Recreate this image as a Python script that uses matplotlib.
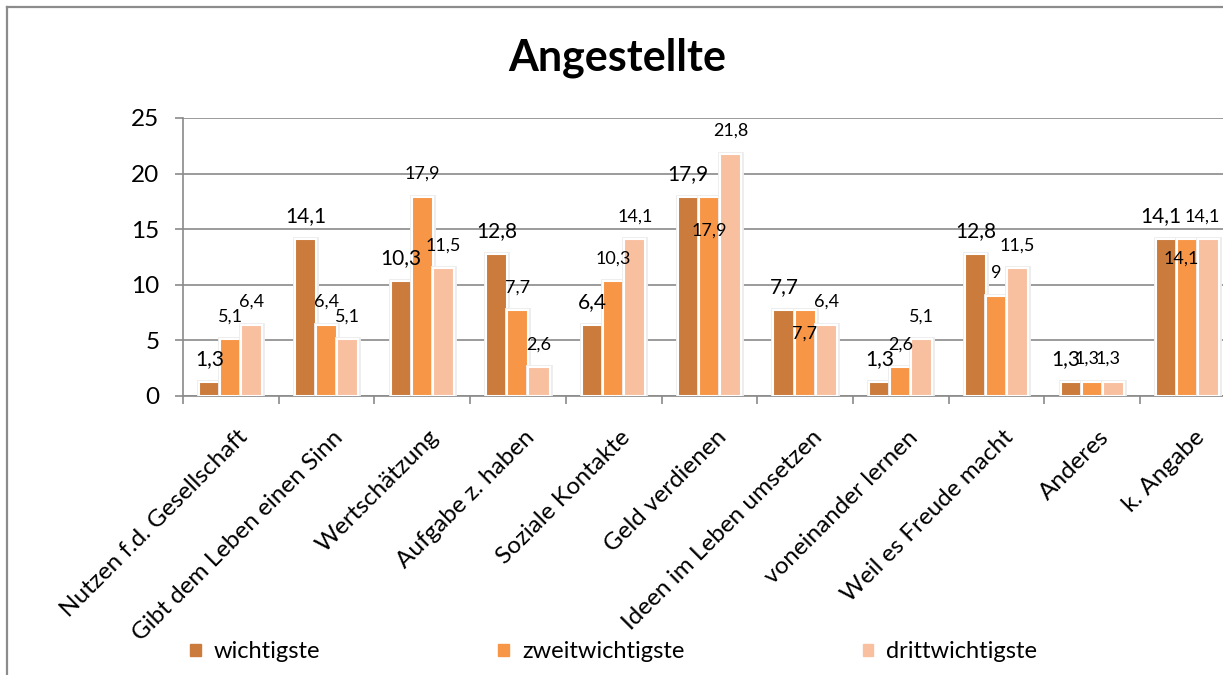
import numpy as np
import matplotlib.pyplot as plt
from matplotlib.patches import Rectangle
from matplotlib.transforms import ScaledTranslation
import matplotlib.patheffects as pe

plt.rcParams["font.family"] = ["Lato", "DejaVu Sans"]

categories = [
    "Nutzen f.d. Gesellschaft",
    "Gibt dem Leben einen Sinn",
    "Wertschätzung",
    "Aufgabe z. haben",
    "Soziale Kontakte",
    "Geld verdienen",
    "Ideen im Leben umsetzen",
    "voneinander lernen",
    "Weil es Freude macht",
    "Anderes",
    "k. Angabe",
]
wichtigste = [1.3, 14.1, 10.3, 12.8, 6.4, 17.9, 7.7, 1.3, 12.8, 1.3, 14.1]
zweitwichtigste = [5.1, 6.4, 17.9, 7.7, 10.3, 17.9, 7.7, 2.6, 9, 1.3, 14.1]
drittwichtigste = [6.4, 5.1, 11.5, 2.6, 14.1, 21.8, 6.4, 5.1, 11.5, 1.3, 14.1]
series_names = ["wichtigste", "zweitwichtigste", "drittwichtigste"]
yticks = [0, 5, 10, 15, 20, 25]

colors = ["#CB7B3B", "#F79646", "#F9C0A0"]
label_sizes = [15, 13, 13]
# labels Excel pushed inside the bar (series index, category index) -> offset in pt
inside_labels = {(1, 5): -24, (1, 6): -16.5, (1, 10): -14}
# labels near the right edge sit a little to the left
shifted_cats = {9: -3.6, 10: -4.5}

W, H = 1223, 675
fig = plt.figure(figsize=(W / 100, H / 100), dpi=100)

# chart frame
fig.add_artist(plt.Line2D([7 / W, 7 / W], [0, 1 - 7 / H], color="#8c8c8c", lw=1.6))
fig.add_artist(plt.Line2D([7 / W, 1], [1 - 7 / H, 1 - 7 / H], color="#8c8c8c", lw=1.6))

x0, x1 = 183, 183 + 11 * 95.7
y0, y1 = 396, 118
ax = fig.add_axes([x0 / W, 1 - y0 / H, (x1 - x0) / W, (y0 - y1) / H])

x = np.arange(len(categories))
bw = 0.22
all_series = [wichtigste, zweitwichtigste, drittwichtigste]
for s, vals in enumerate(all_series):
    pos = x + (s - 1) * bw
    bars = ax.bar(pos, vals, width=bw, color=colors[s], edgecolor="white",
                  linewidth=1.5, zorder=3, label=series_names[s])
    for b in bars:
        b.set_path_effects([pe.withStroke(linewidth=3.5, foreground="#ededed"), pe.Normal()])
    for i, v in enumerate(vals):
        off = inside_labels.get((s, i), 16.5)
        dx = shifted_cats.get(i, 0)
        ax.annotate(f"{v:g}".replace(".", ","), (pos[i], v), xytext=(dx, off),
                    textcoords="offset points", ha="center", va="center",
                    fontsize=label_sizes[s], color="black", zorder=5)

ax.set_xlim(-0.5, len(categories) - 0.5)
ax.set_ylim(0, 25)
ax.set_yticks(yticks)
ax.set_yticklabels([str(t) for t in yticks], fontsize=17.5)
ax.yaxis.grid(True, color="#8a8a8a", lw=1.2, zorder=0)
ax.set_axisbelow(True)

ax.set_xticks(x)
ax.set_xticklabels(categories, fontsize=17.5, rotation=45, ha="right",
                   rotation_mode="anchor")
ax.set_xticks(np.arange(len(categories) + 1) - 0.5, minor=True)
ax.tick_params(axis="x", which="major", length=0, pad=22)
ax.tick_params(axis="x", which="minor", length=6, width=1.2, color="#8a8a8a")
ax.tick_params(axis="y", length=6, width=1.2, color="#8a8a8a", pad=11)
shift = ScaledTranslation(6 / 100, 0, fig.dpi_scale_trans)
for lab in ax.get_xticklabels():
    lab.set_transform(lab.get_transform() + shift)

for side in ["top", "right"]:
    ax.spines[side].set_visible(False)
for side in ["left", "bottom"]:
    ax.spines[side].set_color("#8a8a8a")
    ax.spines[side].set_linewidth(1.2)

fig.text(617 / W, 1 - 58 / H, "Angestellte", ha="center", va="center",
         fontsize=31, fontweight="bold")

handles = [Rectangle((0, 0), 1, 1, color=c) for c in colors]
fig.legend(handles, series_names, loc="center left", bbox_to_anchor=(190 / W, 1 - 652 / H),
           ncol=3, frameon=False, fontsize=17, handlelength=0.45, handleheight=0.45,
           handletextpad=0.55, columnspacing=7.55, borderaxespad=0, borderpad=0)

fig.savefig("out.png", dpi=100)
